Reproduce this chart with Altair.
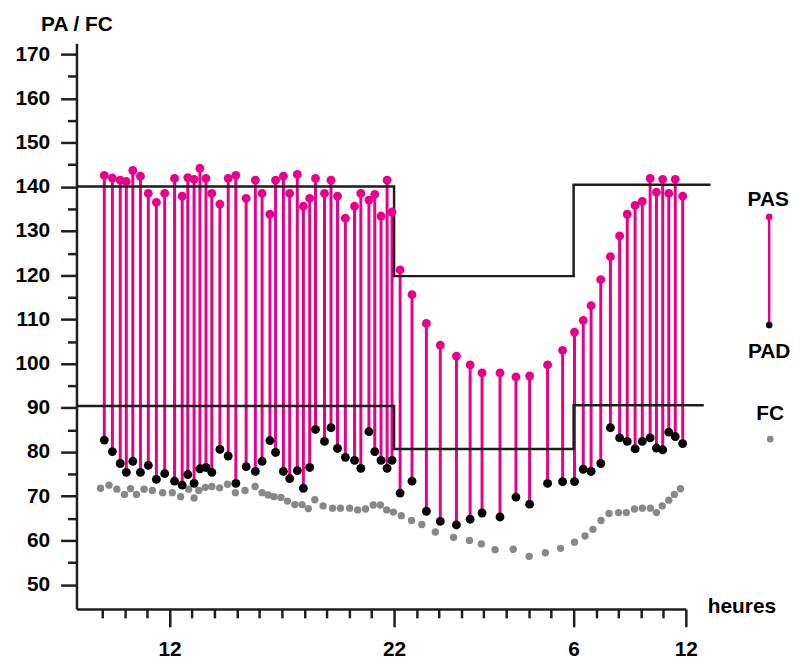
import altair as alt
import pandas as pd

# ---- data (hours elapsed since midnight of day 1; 30 = 6h, 35 = last "12") ----
bp_time = [9.09, 9.45, 9.80, 10.07, 10.36, 10.70, 11.05, 11.41, 11.78, 12.22, 12.56, 12.81,
           13.09, 13.35, 13.62, 13.88, 14.24, 14.61, 14.95, 15.41, 15.82, 16.12, 16.47, 16.72,
           17.07, 17.35, 17.69, 17.96, 18.24, 18.50, 18.90, 19.19, 19.48, 19.83, 20.24, 20.52,
           20.88, 21.14, 21.42, 21.69, 21.91, 22.27,
           22.80, 23.44, 24.06, 24.78, 25.39, 25.92, 26.72, 27.43, 28.04, 28.84, 29.51, 30.04,
           30.43, 30.78, 31.21, 31.64, 32.05, 32.39, 32.74, 33.06, 33.41, 33.69, 33.97, 34.24,
           34.53, 34.86]
pas = [142.6, 142.0, 141.5, 141.2, 143.7, 142.4, 138.5, 136.5, 138.5, 141.9, 137.9, 142.1,
       141.7, 144.2, 141.9, 138.5, 136.1, 141.9, 142.6, 137.4, 141.5, 138.5, 133.8, 141.5,
       142.4, 138.5, 142.8, 135.6, 137.4, 141.9, 138.5, 141.5, 137.9, 132.9, 135.6, 138.5,
       137.0, 138.3, 133.4, 141.5, 134.3, 121.2,
       115.6, 109.1, 104.2, 101.7, 99.7, 97.9, 97.9, 97.0, 97.2, 99.7, 103.0, 107.1,
       109.8, 113.1, 119.0, 124.2, 128.9, 133.8, 135.8, 136.7, 141.9, 138.8, 141.7, 138.5,
       141.7, 137.9]
pad = [82.7, 80.1, 77.4, 75.4, 77.9, 75.4, 77.0, 73.8, 75.1, 73.4, 72.5, 74.9,
       72.9, 76.2, 76.5, 75.4, 80.6, 79.1, 72.9, 76.7, 75.6, 77.9, 82.6, 79.9,
       75.6, 74.0, 75.8, 71.8, 76.5, 85.1, 82.4, 85.5, 80.8, 78.8, 78.1, 76.3,
       84.6, 80.1, 78.1, 76.3, 78.1, 70.7,
       73.4, 66.6, 64.3, 63.5, 64.8, 66.2, 65.3, 69.8, 68.2, 72.9, 73.3, 73.3,
       76.1, 75.6, 77.4, 85.5, 83.2, 82.4, 80.7, 82.4, 83.2, 80.9, 80.5, 84.5,
       83.5, 81.9]

fc_time = [8.92, 9.30, 9.65, 9.99, 10.26, 10.52, 10.86, 11.23, 11.69, 12.12, 12.49, 12.85,
           13.09, 13.30, 13.59, 13.88, 14.23, 14.58, 14.93, 15.36, 15.81, 16.12, 16.39, 16.65,
           16.96, 17.25, 17.58, 17.90, 18.18, 18.47, 18.84, 19.26, 19.61, 20.02, 20.38, 20.73,
           21.07, 21.39, 21.67, 21.97, 22.32,
           22.78, 23.24, 23.84, 24.65, 25.36, 25.89, 26.50, 27.31, 28.02, 28.74, 29.42, 30.04,
           30.51, 30.86, 31.22, 31.58, 32.00, 32.35, 32.71, 33.06, 33.42, 33.69, 33.95, 34.24,
           34.49, 34.76]
fc = [71.8, 72.5, 71.6, 70.4, 71.7, 70.4, 71.6, 71.3, 70.8, 70.8, 69.9, 71.6,
      69.6, 71.3, 72.0, 72.2, 71.9, 72.7, 70.8, 71.3, 72.2, 70.8, 70.3, 69.9,
      69.7, 68.9, 68.1, 68.1, 67.2, 69.2, 67.8, 67.3, 67.3, 67.3, 66.9, 67.1,
      68.0, 68.0, 66.9, 66.4, 65.6,
      64.5, 63.6, 61.9, 60.7, 60.0, 59.2, 57.9, 58.0, 56.4, 57.2, 58.2, 59.6,
      61.0, 62.5, 64.5, 66.1, 66.3, 66.3, 67.1, 67.3, 67.3, 66.3, 67.8, 69.1,
      70.4, 71.7]

# threshold step lines
sys_limit_time = [7.85, 22, 30, 36.1]
sys_limit = [140.1, 119.8, 140.5, 140.5]
dia_limit_time = [7.85, 22, 30, 35.8]
dia_limit = [90.4, 80.7, 90.6, 90.6]

x_ticks = list(range(9, 36))
x_major = [12, 22, 30, 35]
x_major_labels = ["12", "22", "6", "12"]
y_ticks = list(range(50, 171, 5))

X_DOMAIN = [7.85, 35]
Y_DOMAIN = [44.5, 172.5]

PINK = "#E8008A"
GREY = "#888888"
INK = "#1e1e1e"
FONT = "Liberation Sans"
FS = 21

bp = pd.DataFrame({"t": bp_time, "pas": pas, "pad": pad})
hr = pd.DataFrame({"t": fc_time, "fc": fc})
lim = pd.DataFrame({
    "t": sys_limit_time + dia_limit_time,
    "v": sys_limit + dia_limit,
    "g": ["sys"] * len(sys_limit) + ["dia"] * len(dia_limit),
})

major_test = " || ".join(f"datum.value === {v}" for v in x_major)
label_expr = " : ".join(f"datum.value === {v} ? '{l}'" for v, l in zip(x_major, x_major_labels)) + " : ''"

x_axis = alt.Axis(
    values=x_ticks,
    title="heures",
    titleAngle=0,
    titleX=670,
    titleY=-2,
    titleBaseline="middle",
    titleAlign="center",
    titleFont=FONT,
    titleFontSize=FS,
    titleFontWeight="bold",
    titleColor="#000",
    grid=False,
    domainColor=INK,
    domainWidth=2.5,
    tickColor=INK,
    tickWidth=2.5,
    tickSize={"condition": {"test": major_test, "value": 18}, "value": 9},
    labelExpr=label_expr,
    labelFont=FONT,
    labelFontSize=FS,
    labelFontWeight="bold",
    labelColor="#000",
    labelPadding=12,
    labelOverlap=False,
    labelFlush=False,
)
x_enc = alt.X("t:Q", scale=alt.Scale(domain=X_DOMAIN, nice=False, zero=False), axis=x_axis)

y_axis = alt.Axis(
    values=y_ticks,
    title="PA / FC",
    titleAngle=0,
    titleX=0,
    titleY=-19,
    titleBaseline="middle",
    titleAlign="center",
    titleFont=FONT,
    titleFontSize=FS,
    titleFontWeight="bold",
    titleColor="#000",
    grid=False,
    domainColor=INK,
    domainWidth=2.5,
    tickColor=INK,
    tickWidth=2.5,
    tickSize={"condition": {"test": "datum.value % 10 === 0", "value": 16}, "value": 9},
    labelExpr="datum.value % 10 === 0 ? datum.label : ''",
    labelFont=FONT,
    labelFontSize=FS,
    labelFontWeight="bold",
    labelColor="#000",
    labelPadding=11,
    labelOverlap=False,
    labelFlush=False,
)
y_scale = alt.Scale(domain=Y_DOMAIN, nice=False, zero=False)


def yq(field):
    return alt.Y(f"{field}:Q", scale=y_scale, axis=y_axis)


fc_pts = alt.Chart(hr).mark_circle(size=55, color=GREY, opacity=1).encode(x=x_enc, y=yq("fc"))
stems = alt.Chart(bp).mark_rule(color=PINK, strokeWidth=3).encode(x=x_enc, y=yq("pad"), y2="pas:Q")
limits = alt.Chart(lim).mark_line(color=INK, strokeWidth=2.5, interpolate="step-after").encode(
    x=x_enc, y=yq("v"), detail="g:N"
)
heads = alt.Chart(bp).mark_circle(size=80, color=PINK, opacity=1).encode(x=x_enc, y=yq("pas"))
feet = alt.Chart(bp).mark_circle(size=80, color="#000", opacity=1).encode(x=x_enc, y=yq("pad"))

# legend (drawn at the right of the plot)
one = pd.DataFrame({"a": [0]})
txt = dict(font=FONT, fontSize=FS, fontWeight="bold", color="#000", align="center", baseline="middle")
leg_pas = alt.Chart(one).mark_text(text="PAS", **txt).encode(x=alt.value(697), y=alt.value(158))
leg_pad = alt.Chart(one).mark_text(text="PAD", **txt).encode(x=alt.value(698), y=alt.value(311))
leg_fc = alt.Chart(one).mark_text(text="FC", **txt).encode(x=alt.value(699), y=alt.value(374))
leg_stem = alt.Chart(one).mark_rule(color=PINK, strokeWidth=2.5).encode(
    x=alt.value(698), y=alt.value(175), y2=alt.value(284)
)
leg_head = alt.Chart(one).mark_circle(size=45, color=PINK, opacity=1).encode(
    x=alt.value(698), y=alt.value(175)
)
leg_foot = alt.Chart(one).mark_circle(size=45, color="#000", opacity=1).encode(
    x=alt.value(698), y=alt.value(284)
)
leg_fcdot = alt.Chart(one).mark_circle(size=45, color=GREY, opacity=1).encode(
    x=alt.value(699), y=alt.value(399)
)

chart = alt.layer(
    fc_pts, stems, limits, heads, feet,
    leg_stem, leg_head, leg_foot, leg_fcdot, leg_pas, leg_pad, leg_fc,
).properties(
    width=614,
    height=570,
    autosize=alt.AutoSizeParams(type="none"),
    padding={"left": 69, "top": 33, "right": 110, "bottom": 50},
    background="white",
).configure_view(stroke=None)

chart.save("out.html", embed_options={"renderer": "svg", "actions": False})
